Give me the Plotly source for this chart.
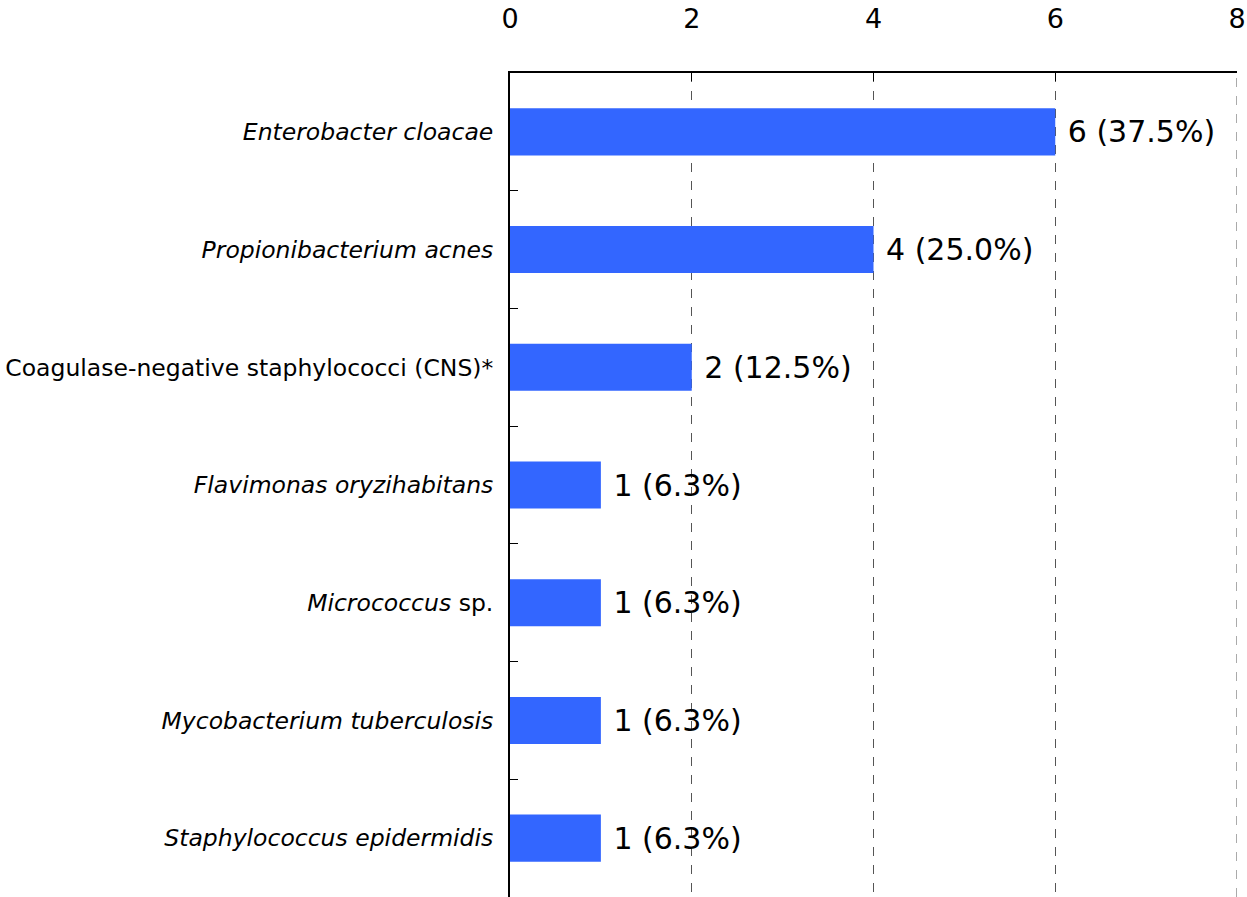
import plotly.graph_objects as go

categories = [
    "<i>Enterobacter cloacae</i>",
    "<i>Propionibacterium acnes</i>",
    "Coagulase-negative staphylococci (CNS)*",
    "<i>Flavimonas oryzihabitans</i>",
    "<i>Micrococcus</i> sp.",
    "<i>Mycobacterium tuberculosis</i>",
    "<i>Staphylococcus epidermidis</i>",
]
counts = [6, 4, 2, 1, 1, 1, 1]
percents = [37.5, 25.0, 12.5, 6.3, 6.3, 6.3, 6.3]
x_ticks = [0, 2, 4, 6, 8]
x_max = 8

labels = [f" {c} ({p:.1f}%)" for c, p in zip(counts, percents)]

fig = go.Figure(
    go.Bar(
        x=counts,
        y=categories,
        orientation="h",
        width=0.4,
        marker=dict(color="#3366ff", line=dict(width=0)),
        text=labels,
        textposition="outside",
        textfont=dict(family="DejaVu Sans", size=30, color="black"),
        cliponaxis=False,
    )
)

# gridline at the far edge (x = max), which Plotly hides by default
fig.add_shape(
    type="line", xref="x", yref="paper",
    x0=x_max, x1=x_max, y0=0, y1=1,
    line=dict(color="#555555", width=1, dash="dash"),
    layer="below",
)

fig.update_layout(
    width=1247,
    height=897,
    margin=dict(l=510, r=10, t=73, b=0),
    plot_bgcolor="white",
    paper_bgcolor="white",
    showlegend=False,
    font=dict(family="DejaVu Sans", color="black"),
    xaxis=dict(
        side="top",
        range=[0, x_max],
        tickvals=x_ticks,
        ticks="inside",
        ticklen=8,
        tickcolor="black",
        showline=True,
        linecolor="black",
        linewidth=2,
        showgrid=True,
        gridcolor="#555555",
        griddash="dash",
        gridwidth=1,
        zeroline=False,
        tickfont=dict(size=27, color="black"),
        ticklabelstandoff=32,
        automargin=False,
    ),
    yaxis=dict(
        categoryorder="array",
        categoryarray=categories,
        autorange="reversed",
        ticks="inside",
        tickson="boundaries",
        ticklen=8,
        tickcolor="black",
        showline=True,
        linecolor="black",
        linewidth=2,
        showgrid=False,
        tickfont=dict(size=23.5, color="black"),
        ticklabelstandoff=10,
        automargin=False,
    ),
)

fig.write_html(
    "out.html",
    config={"displayModeBar": False},
    post_script="document.body.style.margin='0';document.body.style.overflow='hidden';",
)
